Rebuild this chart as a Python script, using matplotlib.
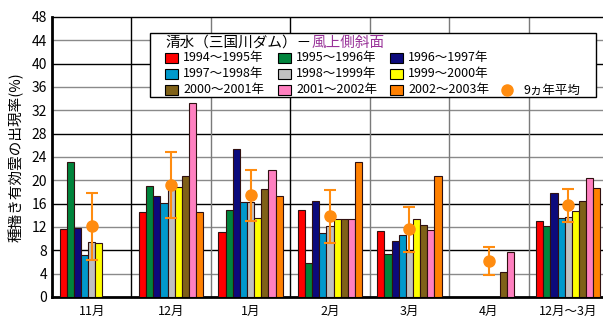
import matplotlib.pyplot as plt
import numpy as np
from matplotlib.patches import Rectangle
from matplotlib.lines import Line2D

plt.rcParams['font.family'] = ['Noto Sans CJK JP', 'DejaVu Sans']

# ---- データ ----
months = ['11月', '12月', '1月', '2月', '3月', '4月', '12月～3月']
seasons = ['1994～1995年', '1995～1996年', '1996～1997年',
           '1997～1998年', '1998～1999年', '1999～2000年',
           '2000～2001年', '2001～2002年', '2002～2003年']
colors = ['#ff0000', '#00843c', '#0c0a7c',
          '#0099cc', '#c0c0c0', '#ffff00',
          '#7f6118', '#ff80c0', '#ff8000']
nan = np.nan
# 各シーズンの月別出現率 (%)  並び: 11月,12月,1月,2月,3月,4月,12月～3月
rates = [
    [11.6, 14.6, 11.1, 15.0, 11.3, nan, 13.1],
    [23.2, 19.0, 15.0, 5.8, 7.4, nan, 12.2],
    [11.9, 17.4, 25.4, 16.5, 9.6, nan, 17.9],
    [7.2, 16.2, 16.3, 11.0, 10.7, nan, 13.6],
    [9.5, 18.6, 16.3, 12.2, 7.8, nan, 13.8],
    [9.3, 18.8, 13.5, 13.3, 13.4, nan, 14.8],
    [nan, 20.8, 18.6, 13.4, 12.3, 4.3, 16.5],
    [nan, 33.2, 21.8, 13.4, 11.5, 7.8, 20.4],
    [nan, 14.5, 17.4, 23.2, 20.8, nan, 18.7],
]
# 9ヵ年平均と誤差範囲
mean = [12.1, 19.2, 17.5, 13.9, 11.6, 6.1, 15.7]
err_hi = [17.8, 24.8, 21.7, 18.4, 15.5, 8.6, 18.6]
err_lo = [6.3, 13.6, 13.1, 9.2, 7.7, 3.7, 12.8]

W, H = 603, 320
fig = plt.figure(figsize=(W / 100, H / 100), dpi=100)
# 右端は画像の外まで続く
ax = fig.add_axes([52 / W, 23 / H, 556 / W, 280 / H])

x = np.arange(len(months))
bw = 0.09
for i, (vals, c) in enumerate(zip(rates, colors)):
    ax.bar(x + (i - 4) * bw, vals, width=bw, color=c,
           edgecolor='#301010', linewidth=0.8, zorder=3)

yerr = [np.array(mean) - np.array(err_lo), np.array(err_hi) - np.array(mean)]
ax.errorbar(x, mean, yerr=yerr, fmt='o', color='#ff8c10', ms=8,
            elinewidth=1.5, capsize=4, capthick=1.5, zorder=5)

ax.set_xlim(-0.5, len(months) - 0.5)
ax.set_ylim(0, 48)
ax.set_yticks(np.arange(0, 49, 4))
ax.set_xticks(x)
ax.set_xticklabels(months, fontsize=9)
ax.tick_params(axis='both', length=0, labelsize=10)
ax.tick_params(axis='x', pad=6, labelsize=9)

# 目盛線
dark_rows = [8, 16, 28, 40]
for v in range(4, 48, 4):
    ax.axhline(v, color='black' if v in dark_rows else '#8a8a8a',
               lw=1.0, zorder=1)
for k in range(1, len(months)):
    ax.axvline(k - 0.5, color='black' if k in (1, 3) else '#7a7a7a',
               lw=1.0, zorder=1)

for s in ['left', 'bottom']:
    ax.spines[s].set_linewidth(2.0)
ax.spines['top'].set_linewidth(1.0)
ax.spines['right'].set_visible(False)

fig.text(16 / W, 1 - 157 / H, '種播き有効雲の出現率(%)', rotation=90,
         ha='center', va='center', fontsize=10.5)

# 凡例 (ピクセル座標で配置)
def fx(px):
    return px / W

def fy(py):
    return 1 - py / H

box = Rectangle((fx(150), fy(97)), fx(596) - fx(150), fy(33) - fy(97),
                transform=fig.transFigure, facecolor='white',
                edgecolor='black', lw=1.0, zorder=10)
fig.add_artist(box)

t1 = fig.text(fx(165), fy(43), '清水（三国川ダム）－', fontsize=10.5,
              ha='left', va='center', zorder=11)
fig.canvas.draw()
bb = t1.get_window_extent()
fig.text(bb.x1 / W, fy(43), '風上側斜面', color='#993399', fontsize=10.5,
         ha='left', va='center', zorder=11)

col_x = [165, 278, 390]
row_y = [58, 74, 90]
for i, (name, c) in enumerate(zip(seasons, colors)):
    r, k = divmod(i, 3)
    px, py = col_x[k], row_y[r]
    fig.add_artist(Rectangle((fx(px), fy(py + 5)), fx(13), 10 / H,
                             transform=fig.transFigure, facecolor=c,
                             edgecolor='black', lw=0.8, zorder=11))
    fig.text(fx(px + 18), fy(py), name, fontsize=9, ha='left',
             va='center', zorder=11)

fig.add_artist(Line2D([fx(507)], [fy(90)], marker='o', ms=8,
                      color='#ff8c10', transform=fig.transFigure, zorder=11))
fig.text(fx(523), fy(90), '9ヵ年平均', fontsize=9, ha='left',
         va='center', zorder=11)

fig.savefig('out.png', dpi=100)
